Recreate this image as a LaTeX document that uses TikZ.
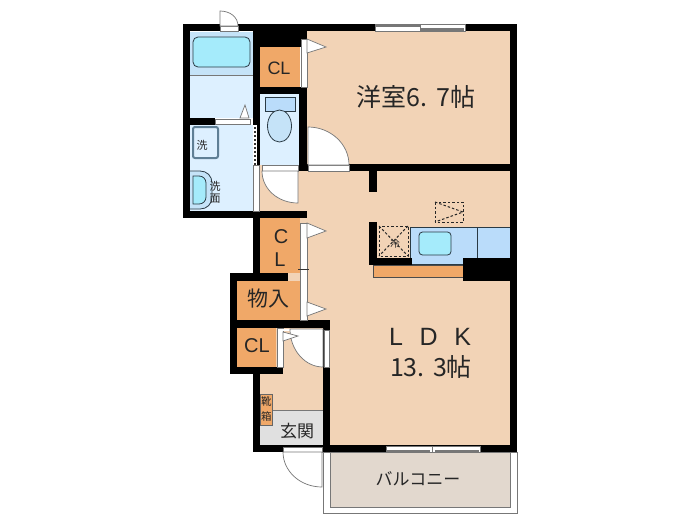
\documentclass[tikz,border=0pt]{standalone}
\usepackage{fontspec}
\setmainfont{Noto Sans CJK JP}
\newfontfamily\latinf{Liberation Sans}
\definecolor{floorc}{HTML}{F2D3B6}
\definecolor{orangec}{HTML}{F0A868}
\definecolor{bathc}{HTML}{C5E3F8}
\definecolor{palec}{HTML}{DDF0FF}
\definecolor{counterc}{HTML}{BADCFA}
\definecolor{sinkc}{HTML}{A5EBFB}
\definecolor{linec}{HTML}{2A3A44}
\definecolor{greyl}{HTML}{777777}
\definecolor{balc}{HTML}{E2D8CE}
\definecolor{genk}{HTML}{E0E0E0}
\definecolor{framec}{HTML}{5F7F95}
\tikzset{
  x=1pt,y=-1pt,
  wall/.style={fill=black,draw=none},
  flr/.style={fill=floorc,draw=none},
  closet/.style={fill=orangec,draw=none},
  strip/.style={fill=white,draw=greyl,line width=.6pt},
  doorleaf/.style={fill=white,draw=greyl,line width=.7pt},
  fixture/.style={draw=linec,line width=.8pt},
  dashline/.style={draw=black!85,line width=1pt,dash pattern=on 2.5pt off 2pt},
  lab/.style={inner sep=0pt,text=black!85},
}
\newcommand{\fs}[1]{\fontsize{#1}{#1}\selectfont}
\begin{document}
\begin{tikzpicture}
\useasboundingbox (0,0) rectangle (700,525);
\fill[white] (0,0) rectangle (700,525);
% balcony
\draw[greyl,line width=.8pt,fill=white] (323,452) rectangle (517,513);
\draw[greyl,line width=.8pt,fill=balc] (330,452) rectangle (510,507);
% floors
\path[flr] (307,31) rectangle (510,165);
\path[flr] (259,165) rectangle (510,445);
\path[fill=white] (253,321) rectangle (323,330);
\path[flr] (260,328) rectangle (323,410);
\path[fill=genk] (260,410) rectangle (323,445);
\draw[greyl,line width=.6pt] (260,410) -- (323,410);
% wet rooms
\path[fill=bathc] (190,32) rectangle (253,75);
\path[fill=palec] (190,75) rectangle (253,118);
\path[fill=palec] (190,125) rectangle (253,211);
\path[fill=palec] (260,94) rectangle (299,165);
\draw[greyl,line width=.6pt] (190,75) -- (253,75);
% closets
\path[closet] (260,47) rectangle (300,87);
\path[closet] (260,218) rectangle (300,273);
\path[closet] (237,281) rectangle (300,320);
\path[closet] (237,328) rectangle (276,367);
\draw[black!70,line width=.5pt,fill=orangec] (373,265) rectangle (463,277);
% kitchen counter
\draw[linec,line width=.5pt,fill=counterc] (410,227) -- (510,227) -- (510,258) -- (463,258) -- (463,264) -- (410,264) -- cycle;
\draw[linec,line width=.7pt] (477,227) -- (477,258);
\draw[fixture,fill=sinkc,rounded corners=3.5pt] (419,232) rectangle (451,255);
% walls
\path[wall] (183,24) rectangle (517,31);
\path[wall] (183,24) rectangle (190,218);
\path[wall] (253,24) rectangle (307,47);
\path[wall] (253,24) rectangle (260,170);
\path[wall] (253,87) rectangle (307,94);
\path[wall] (299,87) rectangle (307,171);
\path[wall] (510,24) rectangle (517,452);
\path[wall] (299,164) rectangle (517,171);
\path[wall] (190,118) rectangle (215,125);
\path[wall] (183,211) rectangle (307,218);
\path[wall] (253,211) rectangle (260,273);
\path[wall] (230,273) rectangle (288,281);
\path[wall] (230,273) rectangle (237,374);
\path[wall] (230,320) rectangle (330,328);
\path[wall] (230,367) rectangle (283,374);
\path[wall] (253,367) rectangle (260,452);
\path[wall] (323,320) rectangle (330,452);
\path[wall] (253,445) rectangle (517,452);
\path[wall] (369,171) rectangle (377,192);
\path[wall] (369,222) rectangle (377,265);
\path[wall] (369,258) rectangle (412,265);
\path[wall] (463,258) rectangle (517,281);
% sliding windows
\path[strip] (375,24.5) rectangle (465,31);
\path[fill=white] (376,27) rectangle (420,30);
\path[fill=greyl] (376,25) rectangle (420,26.5);
\path[fill=white] (421,25) rectangle (464,27.5);
\path[fill=greyl] (421,28) rectangle (464,30.5);
\draw[greyl,line width=.8pt] (420,24) -- (420,31);
\path[strip] (386,446) rectangle (480,452);
\path[fill=white] (387,447) rectangle (430,449);
\path[fill=greyl] (387,449.5) rectangle (430,451.5);
\path[fill=white] (435,447) rectangle (479,449);
\path[fill=greyl] (435,449.5) rectangle (479,451.5);
\draw[greyl,line width=.8pt] (432,446) -- (432,452);
% door strips
\path[strip] (301,39) rectangle (307,87);
\path[strip] (215,119) rectangle (250,124);
\path[strip] (262,165) rectangle (298,171);
\path[strip] (308,165) rectangle (349,171);
\path[strip] (220,26) rectangle (238,31);
\path[strip] (300,223) rectangle (307,320);
\draw[black!80,line width=.6pt] (298,269) -- (309,269);
\path[strip] (277,328) rectangle (283,367);
\path[strip] (324,330) rectangle (329,367);
\path[strip] (283,447) rectangle (322,452);
\path[strip] (253.5,165) rectangle (259,211);
% dashed partition
\path[fill=white] (253,125) rectangle (257,165);
\draw[black!80,line width=1.2pt,dash pattern=on 2pt off 2pt] (255,127) -- (255,165);
% door leaves
\draw[doorleaf] (308,165) -- (308,127) .. controls (330.5,127) and (349,144) .. (349,165) -- cycle;
\draw[doorleaf] (262,171) .. controls (262,189) and (278,203) .. (298,203) -- (298,171) -- cycle;
\draw[doorleaf] (220,26) -- (220,11) .. controls (230,11) and (238,17) .. (238,26) -- cycle;
\path[fill=white] (283,329) rectangle (323,331);
\draw[doorleaf] (290,329) .. controls (290,350) and (305,367) .. (323,367) -- (323,329) -- cycle;
\draw[doorleaf] (283,452) .. controls (283,471) and (300,487) .. (322,487) -- (322,452) -- cycle;
% triangular door swings
\draw[doorleaf] (307,39) -- (326,47) -- (307,53) -- cycle;
\draw[doorleaf] (307,223) -- (326,231) -- (307,238) -- cycle;
\draw[doorleaf] (307,302) -- (326,309) -- (307,316) -- cycle;
\draw[doorleaf] (283,332) -- (298,336) -- (283,341) -- cycle;
\draw[doorleaf] (240,118) -- (245,105) -- (249,118) -- cycle;
% bath fixtures
\draw[fixture,fill=sinkc,rounded corners=5pt] (193,37) rectangle (250,67);
\draw[fill=palec,draw=framec,line width=2pt,rounded corners=2pt] (193,127) rectangle (218,158);
\draw[fixture,fill=bathc] (190,171) -- (200,171) .. controls (207,171) and (212,176) .. (212,183) -- (212,197) .. controls (212,204) and (207,209) .. (200,209) -- (190,209);
\draw[fixture,fill=sinkc] (193,176) -- (199,176) .. controls (203,176) and (206,179) .. (206,183) -- (206,197) .. controls (206,201) and (203,204) .. (199,204) -- (193,204) -- cycle;
\draw[fixture,fill=counterc] (265,97) rectangle (295,111);
\draw[fixture,fill=bathc] (279.5,126) ellipse[x radius=12,y radius=16];
% kitchen dashed
\draw[dashline,fill=floorc] (379,226) rectangle (408,256);
\draw[dashline] (379,226) -- (408,256) (408,226) -- (379,256);
\draw[dashline] (435,202) rectangle (463,222);
\draw[dashline] (435,202) -- (463,212) -- (435,222);
% labels
\node[lab,font=\fs{25}] (bedroom) at (416,97) {洋室6.\,\,7帖};
\node[lab,font=\latinf\fs{25}] (ldk) at (430,337) {L\,\,\,\,D\,\,\,\,K};
\node[lab,font=\fs{25}] (ldkarea) at (431,367) {13.\,\,3帖};
\node[lab,font=\fs{17}] (balcony) at (418,479) {バルコニー};
\node[lab,font=\fs{17}] (genkan) at (297,431) {玄関};
\node[lab,font=\latinf\fs{18}] (cl1) at (279,68) {CL};
\node[lab,font=\latinf\fs{20}] (clc) at (281,237) {C};
\node[lab,font=\latinf\fs{20}] (cll) at (280,260) {L};
\node[lab,font=\fs{21}] (monoire) at (268,299) {物入};
\node[lab,font=\latinf\fs{20}] (cl2) at (257,346) {CL};
\node[lab,font=\fs{11}] (sen) at (202,145) {洗};
\node[lab,font=\fs{11}] (sen2) at (215,186) {洗};
\node[lab,font=\fs{11}] (men) at (215,199) {面};
\node[lab,font=\fs{9.5}] (rei) at (395,244) {冷};
\path[closet,draw=black!60,line width=.4pt] (260,394) rectangle (272.5,425);
\node[lab,font=\fs{10.5}] (kutsu) at (266.3,402) {靴};
\node[lab,font=\fs{10.5}] (hako) at (266.3,416) {箱};
\end{tikzpicture}
\end{document}
